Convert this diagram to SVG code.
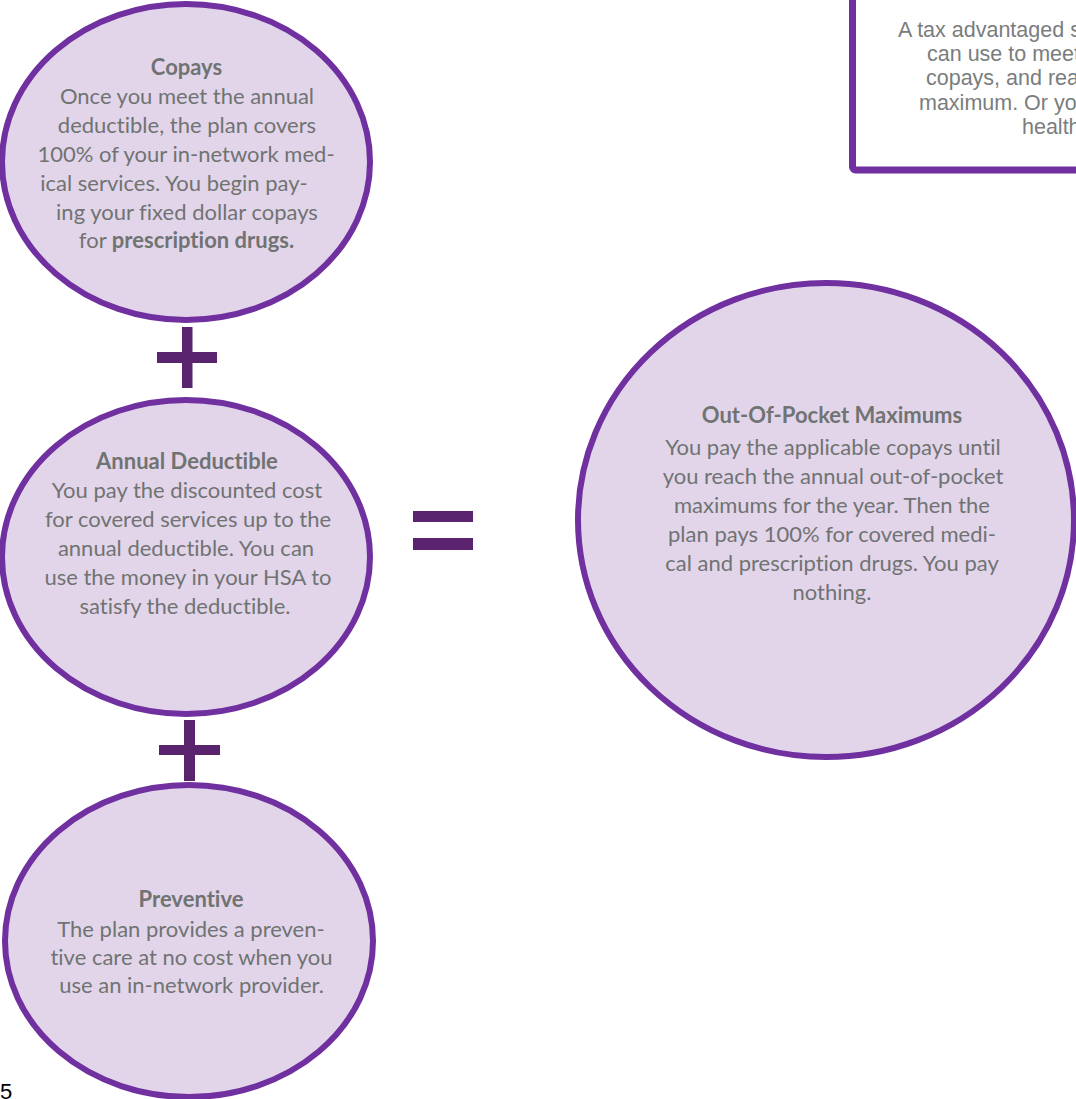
<svg xmlns="http://www.w3.org/2000/svg" width="1076" height="1099" viewBox="0 0 1076 1099">
<style>
.node{fill:#e2d5ea;stroke:#7030a0;stroke-width:6}
.t{font-family:Lato,"Liberation Sans",sans-serif;font-size:22px;fill:#707372;text-anchor:middle;font-variant-ligatures:none}
.b{font-weight:bold}
.op{fill:#59236e}
.box{font-family:"Liberation Sans",Arial,sans-serif;font-size:21.5px;fill:#7a7d7d}
</style>
<rect width="1076" height="1099" fill="#ffffff"/>
<g id="hsa-box">
<rect x="852.5" y="-20" width="300" height="190" rx="3" fill="#ffffff" stroke="#7030a0" stroke-width="7"/>
<text class="box" x="898" y="37">A tax advantaged s</text>
<text class="box" x="927" y="61">can use to meet</text>
<text class="box" x="926" y="85">copays, and rea</text>
<text class="box" x="919" y="110">maximum. Or yo</text>
<text class="box" x="1022" y="134">health</text>
</g>
<g id="copays">
<ellipse class="node" cx="186" cy="162" rx="184" ry="158"/>
<text class="t b" x="186.5" y="75">Copays</text>
<text class="t" x="187" y="104">Once you meet the annual</text>
<text class="t" x="187" y="133">deductible, the plan covers</text>
<text class="t" x="186" y="162">100% of your in-network med-</text>
<text class="t" x="174" y="191">ical services. You begin pay-</text>
<text class="t" x="187" y="220">ing your fixed dollar copays</text>
<text class="t" x="186.5" y="248">for <tspan class="b">prescription drugs.</tspan></text>
</g>
<g id="annual-deductible">
<ellipse class="node" cx="186" cy="557" rx="184" ry="157"/>
<text class="t b" x="187" y="469">Annual Deductible</text>
<text class="t" x="187" y="498">You pay the discounted cost</text>
<text class="t" x="188" y="527">for covered services up to the</text>
<text class="t" x="186" y="556">annual deductible. You can</text>
<text class="t" x="188" y="585">use the money in your HSA to</text>
<text class="t" x="185" y="614">satisfy the deductible.</text>
</g>
<g id="preventive">
<ellipse class="node" cx="189" cy="941" rx="184" ry="156"/>
<text class="t b" x="191" y="907">Preventive</text>
<text class="t" x="191" y="937">The plan provides a preven-</text>
<text class="t" x="191.5" y="965">tive care at no cost when you</text>
<text class="t" x="191.5" y="993">use an in-network provider.</text>
</g>
<g id="out-of-pocket">
<ellipse class="node" cx="826" cy="520" rx="248" ry="237"/>
<text class="t b" x="832" y="423">Out-Of-Pocket Maximums</text>
<text class="t" x="833" y="455">You pay the applicable copays until</text>
<text class="t" x="833" y="484">you reach the annual out-of-pocket</text>
<text class="t" x="832" y="513">maximums for the year. Then the</text>
<text class="t" x="832" y="542">plan pays 100% for covered medi-</text>
<text class="t" x="832" y="571">cal and prescription drugs. You pay</text>
<text class="t" x="832" y="600">nothing.</text>
</g>
<g id="connectors">
<g id="plus-1" class="op">
<rect x="182" y="327" width="10.5" height="61"/>
<rect x="157" y="352" width="60" height="11"/>
</g>
<g id="plus-2" class="op">
<rect x="184" y="720" width="11" height="61"/>
<rect x="159" y="745" width="61" height="10"/>
</g>
<g id="equals" class="op">
<rect x="413" y="511" width="60" height="11"/>
<rect x="413" y="538" width="60" height="12"/>
</g>
</g>
<text x="0" y="1099" font-family="Liberation Sans, Arial, sans-serif" font-size="22" fill="#000000">5</text>
</svg>
